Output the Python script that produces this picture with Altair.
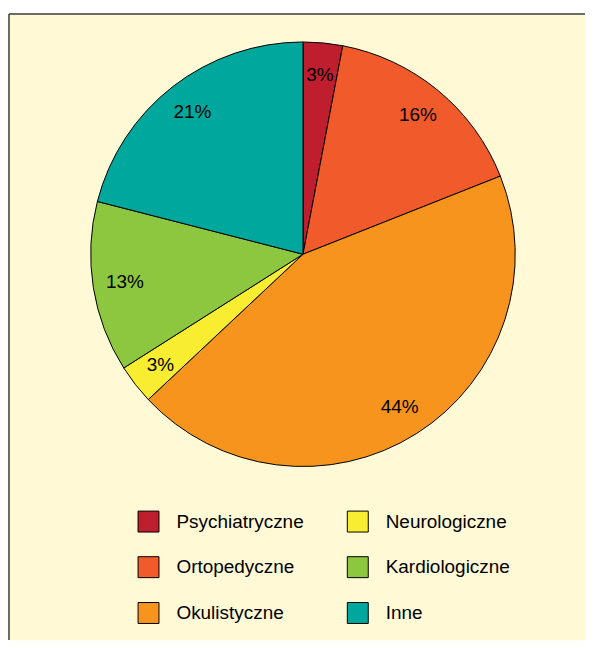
import altair as alt
import pandas as pd

categories = ["Psychiatryczne", "Ortopedyczne", "Okulistyczne",
              "Neurologiczne", "Kardiologiczne", "Inne"]
values = [3, 16, 44, 3, 13, 21]
colors = ["#BE1E2D", "#F15A2B", "#F7941D", "#F9ED32", "#8DC63F", "#00A79D"]

df = pd.DataFrame({
    "cat": categories,
    "val": values,
    "idx": list(range(len(categories))),
    "label": [f"{v}%" for v in values],
})

FONT = "Liberation Sans"
BG = "#FFF9D5"
CX, CY = 295, 241

color = alt.Color(
    "cat:N",
    scale=alt.Scale(domain=categories, range=colors),
    legend=alt.Legend(
        orient="none", legendX=129, legendY=498, columns=2, title=None,
        symbolType="square", symbolSize=441, symbolStrokeColor="black",
        symbolStrokeWidth=1, symbolOpacity=1,
        labelFont=FONT, labelFontSize=19, labelColor="black",
        labelOffset=17, rowPadding=20, columnPadding=41,
    ),
)

theta = alt.Theta("val:Q", stack=True)
order = alt.Order("idx:Q")

pie = alt.Chart(df).mark_arc(radius=213, stroke="black", strokeWidth=1).encode(
    theta=theta, color=color, order=order,
    x=alt.value(CX), y=alt.value(CY),
)

text = alt.Chart(df).mark_text(
    radius=181, font=FONT, fontSize=19, color="black",
    align="center", baseline="middle",
).encode(
    theta=theta, order=order, text="label:N",
    x=alt.value(CX), y=alt.value(CY),
)

frame_df = pd.DataFrame({"a": [0]})
top_rule = alt.Chart(frame_df).mark_rule(color="#3a3a3a", strokeWidth=1.5).encode(
    x=alt.value(0), x2=alt.value(578), y=alt.value(0)
)
left_rule = alt.Chart(frame_df).mark_rule(color="#3a3a3a", strokeWidth=1.5).encode(
    x=alt.value(0), y=alt.value(0), y2=alt.value(628)
)

chart = alt.layer(pie, text, top_rule, left_rule).properties(
    width=578, height=628,
    padding={"left": 0, "top": 4, "right": 0, "bottom": 0},
    background="white",
).configure_view(stroke="transparent", fill=BG)

chart.save("out.html", embed_options={"renderer": "svg", "actions": False})
